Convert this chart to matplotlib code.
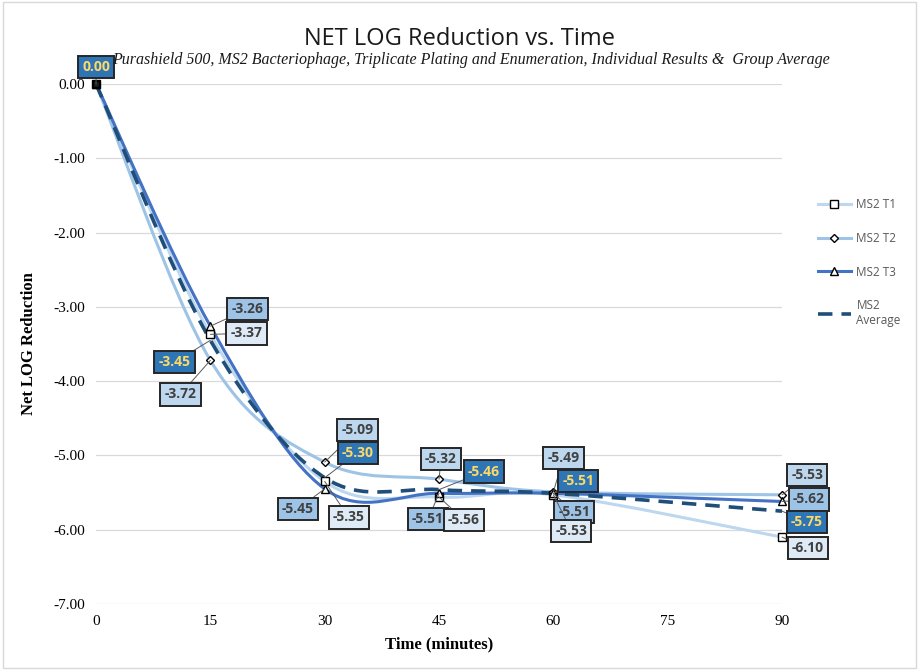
import matplotlib
matplotlib.use("Agg")
import matplotlib.pyplot as plt
from matplotlib.path import Path
from matplotlib.patches import PathPatch, Rectangle
from matplotlib.lines import Line2D
import numpy as np

# data
time_min = [0, 15, 30, 45, 60, 90]
ms2_t1 = [0.00, -3.37, -5.35, -5.56, -5.53, -6.10]
ms2_t2 = [0.00, -3.72, -5.09, -5.32, -5.49, -5.53]
ms2_t3 = [0.00, -3.26, -5.45, -5.51, -5.51, -5.62]
ms2_avg = [0.00, -3.45, -5.30, -5.46, -5.51, -5.75]
x_ticks = [0, 15, 30, 45, 60, 75, 90]
y_ticks = [0, -1, -2, -3, -4, -5, -6, -7]

SERIF = "Liberation Serif"
SANS = "Open Sans"


def smooth_path(xs, ys):
    # Excel style smoothed line: cubic bezier with catmull-rom control points
    pts = np.column_stack([xs, ys]).astype(float)
    n = len(pts)
    verts = [pts[0]]
    codes = [Path.MOVETO]
    for i in range(n - 1):
        p0 = pts[i - 1] if i > 0 else pts[i]
        p1 = pts[i]
        p2 = pts[i + 1]
        p3 = pts[i + 2] if i + 2 < n else pts[i + 1]
        c1 = p1 + (p2 - p0) / 6.0
        c2 = p2 - (p3 - p1) / 6.0
        verts += [c1, c2, p2]
        codes += [Path.CURVE4] * 3
    return Path(verts, codes)


fig = plt.figure(figsize=(9.19, 6.70), dpi=100)
ax = fig.add_axes([0.1045, 0.0985, 0.7465, 0.7761])

series = [
    ("MS2 T1", ms2_t1, "#bdd7ee", "s", "-", 2.2),
    ("MS2 T2", ms2_t2, "#9dc3e6", "D", "-", 2.2),
    ("MS2 T3", ms2_t3, "#4472c4", "^", "-", 2.2),
    ("MS2\nAverage", ms2_avg, "#1f4e79", None, (0, (4, 2.5)), 2.6),
]

handles = []
for name, vals, col, mk, ls, lw in series:
    patch = PathPatch(smooth_path(time_min, vals), facecolor="none", edgecolor=col,
                      lw=lw, linestyle=ls, capstyle="butt", clip_on=False, zorder=3)
    ax.add_patch(patch)
    if mk is not None:
        ax.plot(time_min, vals, linestyle="none", marker=mk,
                ms=5.5 if mk != "D" else 4.5, mfc="white", mec="black",
                mew=1.0, clip_on=False, zorder=5)
    handles.append(Line2D([0], [0], color=col, lw=lw, linestyle=ls, marker=mk,
                          ms=5.5 if mk != "D" else 4.5, mfc="white", mec="black", mew=1.0))
ax.plot([0], [0], linestyle="none", marker="s", ms=5, mfc="#1f1f1f", mec="black",
        clip_on=False, zorder=6)

ax.set_xlim(0, 90)
ax.set_ylim(-7, 0)
ax.set_xticks(x_ticks)
ax.set_yticks(y_ticks)
ax.set_yticklabels([f"{v:.2f}" for v in y_ticks], fontfamily=SERIF, fontsize=11)
ax.set_xticklabels([str(v) for v in x_ticks], fontfamily=SERIF, fontsize=11)
ax.tick_params(length=0, pad=8)
ax.grid(axis="y", color="#d9d9d9", lw=0.9)
ax.set_axisbelow(True)
for s in ax.spines.values():
    s.set_visible(False)

ax.set_xlabel("Time (minutes)", fontfamily=SERIF, fontweight="bold", fontsize=12, labelpad=6)
ax.set_ylabel("Net LOG Reduction", fontfamily=SERIF, fontweight="bold", fontsize=12, labelpad=12)

fig.text(0.5, 0.942, "NET LOG Reduction vs. Time", ha="center", va="center",
         fontfamily=SANS, fontsize=17, color="#1a1a1a")
fig.text(0.512, 0.911, "Purashield 500, MS2 Bacteriophage, Triplicate Plating and Enumeration, "
         "Individual Results &  Group Average", ha="center", va="center",
         fontfamily=SERIF, fontstyle="italic", fontsize=11.5, color="#1a1a1a")

# data labels: (series index, point index, dx, dy in pixels, up positive)
label_style = {
    0: ("#deebf7", "#404040"),
    1: ("#bdd7ee", "#404040"),
    2: ("#9dc3e6", "#404040"),
    3: ("#2e75b6", "#ffd966"),
}
label_offsets = [
    (3, 0, 0, 17),
    (2, 1, 37, 17), (0, 1, 36, 1), (3, 1, -36, -22), (1, 1, -30, -34),
    (1, 2, 33, 32), (3, 2, 33, 25), (2, 2, -27, -20), (0, 2, 24, -36),
    (1, 3, 2, 20), (3, 3, 45, 18), (2, 3, -11, -26), (0, 3, 25, -23),
    (1, 4, 10, 34), (3, 4, 25, 12), (2, 4, 21, -19), (0, 4, 18, -36),
    (1, 5, 25, 20), (2, 5, 27, 2), (3, 5, 25, -11), (0, 5, 26, -11),
]
all_vals = [ms2_t1, ms2_t2, ms2_t3, ms2_avg]
for si, pi, dx, dy in label_offsets:
    v = all_vals[si][pi]
    fc, tc = label_style[si]
    ax.annotate(f"{v:.2f}", xy=(time_min[pi], v), xytext=(dx * 0.72, dy * 0.72),
                textcoords="offset points", ha="center", va="center",
                fontfamily=SANS, fontweight="bold", fontsize=10, color=tc,
                bbox=dict(boxstyle="square,pad=0.3", fc=fc, ec="#262626", lw=1.4),
                arrowprops=dict(arrowstyle="-", color="#595959", lw=0.7,
                                shrinkA=0, shrinkB=0),
                annotation_clip=False, zorder=8)

leg = fig.legend(handles, [s[0] for s in series], loc="upper left",
                 bbox_to_anchor=(0.878, 0.72), frameon=False, handlelength=2.8,
                 handletextpad=0.5, labelspacing=1.75, prop={"family": SANS, "size": 8.5})
for t in leg.get_texts():
    t.set_color("#595959")
    t.set_multialignment("left")

fig.patches.append(Rectangle((0.003, 0.003), 0.994, 0.994, transform=fig.transFigure,
                             fill=False, ec="#d9d9d9", lw=1.0))

fig.savefig("out.png", dpi=100)
